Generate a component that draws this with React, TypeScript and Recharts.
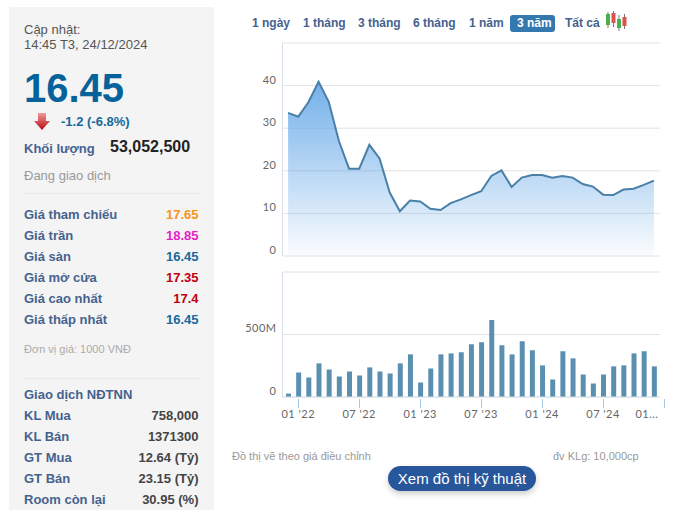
import React from 'react';
import { ComposedChart, Area, Bar, XAxis, YAxis, CartesianGrid } from 'recharts';

const months = [
  "12 '21", "01 '22", "02 '22", "03 '22", "04 '22", "05 '22", "06 '22", "07 '22", "08 '22", "09 '22",
  "10 '22", "11 '22", "12 '22", "01 '23", "02 '23", "03 '23", "04 '23", "05 '23", "06 '23", "07 '23",
  "08 '23", "09 '23", "10 '23", "11 '23", "12 '23", "01 '24", "02 '24", "03 '24", "04 '24", "05 '24",
  "06 '24", "07 '24", "08 '24", "09 '24", "10 '24", "11 '24", "12 '24",
];
const prices = [
  33.6, 32.7, 36.1, 40.9, 36.2, 27, 20.5, 20.5, 26.1, 22.9, 14.9, 10.5, 13, 12.8, 11.1, 10.8, 12.4, 13.3, 14.3,
  15.2, 18.8, 20.1, 16.2, 18.4, 19, 19, 18.4, 18.8, 18.4, 16.9, 16.3, 14.4, 14.3, 15.6, 15.8, 16.7, 17.7,
];
const volumes = [
  27, 196, 156, 269, 220, 164, 204, 172, 237, 204, 188, 269, 341, 116, 228, 341, 349, 358, 422, 438,
  616, 414, 341, 446, 374, 253, 140, 366, 309, 180, 108, 180, 245, 253, 349, 366, 245,
];
const priceTicks = [0, 10, 20, 30, 40, 50];
const volumeTicks = [0, 500, 1000];
const monthTicks = ["01 '22", "07 '22", "01 '23", "07 '23", "01 '24", "07 '24", "12 '24"];

const priceRows = [
  ['Giá tham chiếu', '17.65', '#f7941d'],
  ['Giá trần', '18.85', '#e81cc8'],
  ['Giá sàn', '16.45', '#17699a'],
  ['Giá mở cửa', '17.35', '#c00010'],
  ['Giá cao nhất', '17.4', '#c00010'],
  ['Giá thấp nhất', '16.45', '#17699a'],
];
const foreignRows = [
  ['KL Mua', '758,000'],
  ['KL Bán', '1371300'],
  ['GT Mua', '12.64 (Tỷ)'],
  ['GT Bán', '23.15 (Tỷ)'],
  ['Room còn lại', '30.95 (%)'],
];
const tabs: [string, number][] = [
  ['1 ngày', 252], ['1 tháng', 303], ['3 tháng', 358], ['6 tháng', 413], ['1 năm', 469], ['3 năm', 517], ['Tất cả', 565],
];

const chartData = months.map((month, i) => ({ month, price: prices[i], volume: volumes[i] }));

const labelColor = '#45628f';

const Txt = ({ x, y, right, style, children }: any) => (
  <div
    style={{
      position: 'absolute',
      left: right === undefined ? x : undefined,
      right: right === undefined ? undefined : 677 - right,
      top: y - 9,
      height: 20,
      lineHeight: '20px',
      whiteSpace: 'nowrap',
      ...style,
    }}
  >
    {children}
  </div>
);

const axisFont = { fill: '#666', fontSize: 11, fontFamily: 'Lato', letterSpacing: 0.5, dy: -6 };

const MonthTick = ({ x, y, payload }: any) => {
  const isLast = payload.value === monthTicks[monthTicks.length - 1];
  // snap to the pixel grid, otherwise the 1px tick smears over two columns
  const lineX = Math.round(isLast ? x + 10.2 : x) + 0.5;
  return (
    <g>
      <line x1={lineX} x2={lineX} y1={y} y2={y + 9} stroke="#a9c8e4" strokeWidth={1} />
      <text
        x={isLast ? x - 7 : x}
        y={y + 19}
        textAnchor="middle"
        fill="#666"
        fontSize={11}
        fontFamily="Lato"
        letterSpacing={0.5}
      >
        {isLast ? '01...' : payload.value}
      </text>
    </g>
  );
};

export default function App() {
  return (
    <div style={{ position: 'absolute', left: 0, top: 0, width: 677, height: 516, overflow: 'hidden', background: '#fff', fontFamily: '"Liberation Sans", Arial, sans-serif', fontSize: 13 }}>
      <div style={{ position: 'absolute', left: 9, top: 7, width: 205, height: 503, background: '#f4f4f4' }} />
      <Txt x={24} y={29} style={{ color: '#555' }}>Cập nhật:</Txt>
      <Txt x={24} y={44} style={{ color: '#555' }}>14:45 T3, 24/12/2024</Txt>
      <Txt x={24} y={87} style={{ fontSize: 40, fontWeight: 700, color: '#06629a' }}>16.45</Txt>
      <svg style={{ position: 'absolute', left: 33, top: 112 }} width={18} height={19}>
        <defs>
          <linearGradient id="arrowFill" x1="0" y1="0" x2="0" y2="1">
            <stop offset="0%" stopColor="#ee9a9a" />
            <stop offset="100%" stopColor="#b80a10" />
          </linearGradient>
        </defs>
        <polygon points="5,1 13,1 13,9 17,9 9,18 1,9 5,9" fill="url(#arrowFill)" />
      </svg>
      <Txt x={61} y={121} style={{ fontWeight: 700, color: '#17699a' }}>-1.2 (-6.8%)</Txt>
      <Txt x={24} y={148} style={{ fontWeight: 700, color: labelColor }}>Khối lượng</Txt>
      <Txt x={110} y={146} style={{ fontSize: 16, fontWeight: 700, color: '#222' }}>53,052,500</Txt>
      <Txt x={24} y={175} style={{ color: '#999' }}>Đang giao dịch</Txt>
      <div style={{ position: 'absolute', left: 24, top: 193, width: 176, height: 1, background: '#e8e8e8' }} />
      {priceRows.map(([label, value, color], i) => (
        <React.Fragment key={label}>
          <Txt x={24} y={214 + i * 21} style={{ fontWeight: 700, color: labelColor }}>{label}</Txt>
          <Txt right={198.5} y={214 + i * 21} style={{ color, fontWeight: 700 }}>{value}</Txt>
        </React.Fragment>
      ))}
      <Txt x={24} y={348} style={{ fontSize: 11, color: '#aaa' }}>Đơn vị giá: 1000 VNĐ</Txt>
      <div style={{ position: 'absolute', left: 24, top: 378, width: 176, height: 1, background: '#e8e8e8' }} />
      <Txt x={24} y={394} style={{ fontWeight: 700, color: labelColor }}>Giao dịch NĐTNN</Txt>
      {foreignRows.map(([label, value], i) => (
        <React.Fragment key={label}>
          <Txt x={24} y={415 + i * 21} style={{ fontWeight: 700, color: labelColor }}>{label}</Txt>
          <Txt right={198.5} y={415 + i * 21} style={{ fontWeight: 700, color: '#444' }}>{value}</Txt>
        </React.Fragment>
      ))}

      <div style={{ position: 'absolute', left: 510, top: 15, width: 45, height: 17, borderRadius: 3, background: '#3478b0' }} />
      {tabs.map(([label, x]) => (
        <Txt key={label} x={x} y={22} style={{ fontSize: 12, fontWeight: 700, color: label === '3 năm' ? '#fff' : labelColor }}>{label}</Txt>
      ))}
      <svg style={{ position: 'absolute', left: 605, top: 10 }} width={24} height={22}>
        <line x1={3} x2={3} y1={2} y2={18} stroke="#777" />
        <rect x={1} y={4} width={4} height={11} fill="#4cae4c" />
        <line x1={8.5} x2={8.5} y1={1} y2={17} stroke="#777" />
        <rect x={6.5} y={3} width={4} height={10} fill="#d9534f" />
        <line x1={14} x2={14} y1={5} y2={21} stroke="#777" />
        <rect x={12} y={9} width={4} height={9} fill="#4cae4c" />
        <line x1={19.5} x2={19.5} y1={4} y2={19} stroke="#777" />
        <rect x={17.5} y={7} width={4} height={9} fill="#d9534f" />
      </svg>

      <div style={{ position: 'absolute', left: 240, top: 35 }}>
        <ComposedChart width={430} height={230} data={chartData} margin={{ top: 8, right: 10, bottom: 9, left: 0 }}>
          <defs>
            <linearGradient id="priceFill" x1="0" y1="0" x2="0" y2="1">
              <stop offset="0%" stopColor="#5ba2e6" stopOpacity={0.85} />
              <stop offset="100%" stopColor="#5ba2e6" stopOpacity={0.03} />
            </linearGradient>
          </defs>
          <CartesianGrid vertical={false} stroke="#e2e2e2" />
          <XAxis dataKey="month" scale="band" hide padding={{ left: 0.5, right: 1 }} />
          <YAxis
            width={42.5}
            domain={[0, 50]}
            ticks={priceTicks}
            tickFormatter={(v: number) => (v === 50 ? '' : String(v))}
            tick={axisFont}
            tickSize={0}
            tickMargin={6}
            axisLine={{ stroke: '#d8dee8' }}
            tickLine={false}
          />
          <Area dataKey="price" type="linear" stroke="#4a7fa8" strokeWidth={2} fill="url(#priceFill)" fillOpacity={1} dot={false} activeDot={false} isAnimationActive={false} />
        </ComposedChart>
      </div>

      <div style={{ position: 'absolute', left: 240, top: 264 }}>
        <ComposedChart width={430} height={165} data={chartData} margin={{ top: 8, right: 10, bottom: 0, left: 0 }}>
          <CartesianGrid vertical={false} stroke="#e2e2e2" />
          <XAxis
            dataKey="month"
            scale="band"
            padding={{ left: 0.5, right: 1 }}
            height={32}
            ticks={monthTicks}
            interval={0}
            tick={<MonthTick />}
            tickLine={false}
            tickSize={0}
            axisLine={{ stroke: '#d8e2ea' }}
          />
          <YAxis
            width={42.5}
            domain={[0, 1000]}
            ticks={volumeTicks}
            tickFormatter={(v: number) => (v === 1000 ? '' : v === 0 ? '0' : `${v}M`)}
            tick={axisFont}
            tickSize={0}
            tickMargin={6}
            axisLine={{ stroke: '#d8dee8' }}
            tickLine={false}
          />
          <Bar dataKey="volume" fill="#5a8fb0" barSize={5} isAnimationActive={false} />
        </ComposedChart>
      </div>

      <Txt x={232} y={455} style={{ fontSize: 11, color: '#999' }}>Đồ thị vẽ theo giá điều chỉnh</Txt>
      <Txt x={553} y={455} style={{ fontSize: 11, color: '#999' }}>đv KLg: 10,000cp</Txt>
      <div style={{ position: 'absolute', left: 388, top: 466, width: 148, height: 25, borderRadius: 13, background: '#27569b', color: '#fff', fontSize: 15, lineHeight: '25px', textAlign: 'center', boxShadow: '0 3px 6px rgba(0,0,0,0.2)' }}>
        Xem đồ thị kỹ thuật
      </div>
    </div>
  );
}
